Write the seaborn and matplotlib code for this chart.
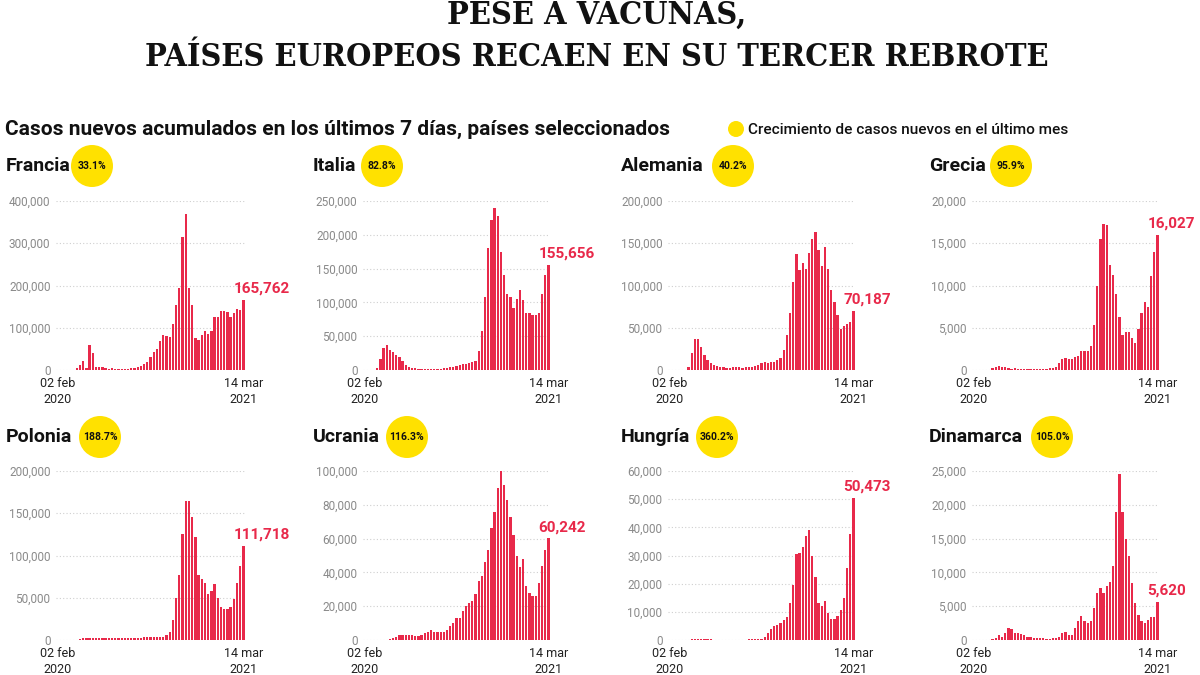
import numpy as np
import pandas as pd
import seaborn as sns
import matplotlib.pyplot as plt
import matplotlib.transforms as mtransforms
from matplotlib.patches import Circle
from matplotlib import font_manager

sns.set_theme(style='white')
plt.rcParams['font.family'] = ['Roboto', 'DejaVu Sans']

# weekly new cases (7-day sums), 02 feb 2020 .. 14 mar 2021
francia = [0, 0, 0, 0, 100, 1000, 5000, 12000, 22000, 5000,
           60000, 40000, 8000, 7000, 6000, 4000, 2000, 5000, 3000, 2000,
           2000, 3000, 3000, 4000, 5000, 7000, 10000, 15000, 20000, 30000,
           42000, 50000, 68000, 82000, 80000, 78000, 110000, 155000, 195000, 315000,
           370000, 195000, 155000, 75000, 72000, 82000, 92000, 85000, 93000, 125000,
           125000, 140000, 140000, 138000, 125000, 135000, 145000, 142000, 165762]
italia = [0, 0, 0, 0, 3000, 16000, 33000, 37000, 30000, 27000,
          22000, 19000, 13000, 7000, 5000, 3500, 2500, 2000, 1500, 1300,
          1200, 1200, 1300, 1500, 1800, 2500, 3000, 4000, 5000, 6500,
          8000, 9000, 9500, 10000, 12000, 14000, 28000, 57000, 108000, 180000,
          222000, 240000, 228000, 175000, 140000, 112000, 108000, 92000, 105000, 118000,
          104000, 84000, 84000, 82000, 82000, 85000, 113000, 140000, 155656]
alemania = [0, 0, 0, 0, 0, 0, 3000, 20000, 37000, 37000,
            27000, 18000, 12000, 8000, 6000, 5000, 4000, 3000, 2500, 2000,
            3000, 3500, 3000, 2500, 3000, 3500, 4000, 5000, 6000, 8000,
            9000, 8000, 9000, 10000, 12000, 14000, 24000, 42000, 68000, 104000,
            137000, 118000, 127000, 120000, 138000, 155000, 163000, 142000, 123000, 145000,
            120000, 95000, 80000, 65000, 48000, 52000, 55000, 57000, 70187]
grecia = [0, 0, 0, 0, 0, 50, 200, 350, 450, 400,
          300, 200, 100, 200, 100, 100, 80, 80, 80, 100,
          100, 150, 100, 150, 250, 200, 300, 800, 1300, 1400,
          1300, 1300, 1500, 1700, 2200, 2200, 2300, 2800, 5300, 10000,
          15500, 17300, 17200, 12400, 11200, 9000, 6300, 4200, 4500, 4500,
          3800, 3200, 4900, 6800, 8000, 7400, 11100, 14000, 16027]
polonia = [0, 0, 0, 0, 0, 50, 300, 1000, 1800, 2000,
           2500, 2500, 2000, 2000, 2500, 2500, 2500, 2500, 2500, 2500,
           2500, 2500, 2500, 2000, 2500, 2500, 2500, 3000, 4000, 4000,
           4000, 4000, 4000, 3000, 6000, 10000, 24000, 50000, 77000, 125000,
           165000, 165000, 145000, 122000, 77000, 72000, 67000, 54000, 58000, 66000,
           50000, 39000, 37000, 37000, 39000, 49000, 67000, 87000, 111718]
ucrania = [0, 0, 0, 0, 0, 0, 50, 200, 500, 1000,
           2000, 3000, 3000, 3000, 3000, 3000, 2500, 2500, 3000, 4000,
           5000, 6000, 4500, 4500, 4500, 5000, 6000, 8000, 10000, 13000,
           13000, 17000, 20000, 22000, 23000, 27000, 35000, 38000, 46000, 53000,
           66000, 76000, 90000, 100000, 92000, 83000, 73000, 62000, 50000, 43000,
           48000, 32000, 28000, 26000, 26000, 34000, 44000, 53000, 60242]
hungria = [0, 0, 0, 0, 0, 0, 50, 200, 400, 500,
           500, 400, 300, 200, 150, 100, 100, 100, 100, 100,
           100, 100, 100, 150, 150, 200, 200, 300, 300, 500,
           1000, 2500, 4000, 5000, 5500, 6000, 7000, 8000, 13000, 19500,
           30500, 31000, 33000, 37000, 39000, 30000, 22500, 13000, 12000, 14000,
           9500, 7500, 7500, 8500, 10500, 15000, 25500, 37500, 50473]
dinamarca = [0, 0, 0, 0, 0, 0, 100, 300, 700, 500,
             1000, 1800, 1700, 1100, 1000, 900, 800, 500, 400, 350,
             300, 300, 300, 200, 200, 300, 300, 500, 1000, 1200,
             700, 800, 1800, 2800, 3500, 2800, 2500, 2800, 4700, 7000,
             7700, 7000, 8000, 8600, 11000, 19000, 24500, 19000, 15000, 12500,
             8500, 5500, 3700, 2800, 2500, 3000, 3400, 3400, 5620]

paises = ['Francia', 'Italia', 'Alemania', 'Grecia',
          'Polonia', 'Ucrania', 'Hungría', 'Dinamarca']
series = [francia, italia, alemania, grecia, polonia, ucrania, hungria, dinamarca]
crecimiento = ['33.1%', '82.8%', '40.2%', '95.9%', '188.7%', '116.3%', '360.2%', '105.0%']
y_max = [400000, 250000, 200000, 20000, 200000, 100000, 60000, 25000]
y_step = [100000, 50000, 50000, 5000, 50000, 20000, 10000, 5000]
x_labels = ['02 feb\n2020', '14 mar\n2021']

RED = '#e8294a'
YELLOW = '#ffe100'
W, H = 1200, 675

fig = plt.figure(figsize=(12, 6.75), dpi=100)

# pixel layout of the 4x2 grid
col_left = [56, 363, 668, 972]
col_right = [245, 550, 855, 1159]
row_top = [201, 471]
row_bottom = [370, 640]
name_x = [6, 313, 621, 929]
name_y = [166, 437]
badge_x = [92, 382, 733, 1011, 100, 407, 717, 1052]

lift = mtransforms.ScaledTranslation(0, 3 / 100, fig.dpi_scale_trans)

for i, (pais, vals) in enumerate(zip(paises, series)):
    r, c = divmod(i, 4)
    l, rr = col_left[c], col_right[c]
    t, b = row_top[r], row_bottom[r]
    ax = fig.add_axes([l / W, 1 - b / H, (rr - l) / W, (b - t) / H])
    df = pd.DataFrame({'semana': np.arange(len(vals)), 'casos': vals})
    sns.barplot(data=df, x='semana', y='casos', color=RED, saturation=1,
                width=0.72, linewidth=0, errorbar=None, ax=ax)
    ax.set_xlim(-0.5, len(vals) - 0.5)
    ax.set_ylim(0, y_max[i])
    ticks = np.arange(0, y_max[i] + 1, y_step[i])
    ax.set_yticks(ticks)
    ax.set_yticklabels([f'{v:,}' for v in ticks])
    ax.set_xticks([0, len(vals) - 1])
    ax.set_xticklabels(x_labels)
    for lab in ax.get_xticklabels():
        lab.set_linespacing(1.35)
    for lab in ax.get_yticklabels():
        lab.set_transform(lab.get_transform() + lift)
    ax.tick_params(axis='y', length=0, pad=4, labelsize=8.5, labelcolor='#8a8a8a')
    ax.tick_params(axis='x', length=0, pad=5, labelsize=9, labelcolor='#222222')
    ax.yaxis.grid(True, linestyle=(0, (1, 2)), color='#cfcfcf', linewidth=0.8)
    ax.set_axisbelow(True)
    ax.set_xlabel('')
    ax.set_ylabel('')
    sns.despine(ax=ax, left=True, bottom=True)
    last = vals[-1]
    ax.annotate(f'{last:,}', xy=(len(vals) - 1, last), xytext=(-10, 4),
                textcoords='offset pixels', ha='left', va='bottom',
                color=RED, fontsize=11, fontweight='bold', annotation_clip=False)

# overlay in pixel coordinates for titles, names and badges
ov = fig.add_axes([0, 0, 1, 1])
ov.set_xlim(0, W)
ov.set_ylim(H, 0)
ov.axis('off')
ov.patch.set_alpha(0)

cond = [f for f in font_manager.fontManager.ttflist if 'SerifCondensed-Bold.' in f.fname]
if cond:
    tfont = dict(family=cond[0].name, stretch=cond[0].stretch, weight='bold')
else:
    tfont = dict(family='Liberation Serif', weight='bold')

t1 = ov.text(597, 24, 'PESE A VACUNAS,', ha='center', va='baseline',
             fontsize=30, color='#111111', **tfont)
t2 = ov.text(597, 66, 'PAÍSES EUROPEOS RECAEN EN SU TERCER REBROTE', ha='center',
             va='baseline', fontsize=30, color='#111111', **tfont)
sub = ov.text(5, 129, 'Casos nuevos acumulados en los últimos 7 días, países seleccionados',
              ha='left', va='center', fontsize=14, fontweight='bold', color='#111111')
leg = ov.text(748, 130, 'Crecimiento de casos nuevos en el último mes', ha='left',
              va='center', fontsize=10, fontweight='medium', color='#111111')
ov.add_patch(Circle((736, 129), 8, color=YELLOW, lw=0))

# fit the titles to the widths of the reference
fig.canvas.draw()
rend = fig.canvas.get_renderer()
for txt, width in [(t2, 903), (sub, 665), (leg, 320)]:
    w = txt.get_window_extent(rend).width
    txt.set_fontsize(txt.get_fontsize() * width / w)
t1.set_fontsize(t2.get_fontsize())

for i, pais in enumerate(paises):
    r, c = divmod(i, 4)
    ov.text(name_x[c], name_y[r], pais, ha='left', va='center', fontsize=14,
            fontweight='bold', color='#111111')
    ov.add_patch(Circle((badge_x[i], name_y[r]), 21, color=YELLOW, lw=0))
    ov.text(badge_x[i], name_y[r], crecimiento[i], ha='center', va='center',
            fontsize=7.5, fontweight='bold', color='#111111')

fig.savefig('out.png', dpi=100, facecolor='white')
